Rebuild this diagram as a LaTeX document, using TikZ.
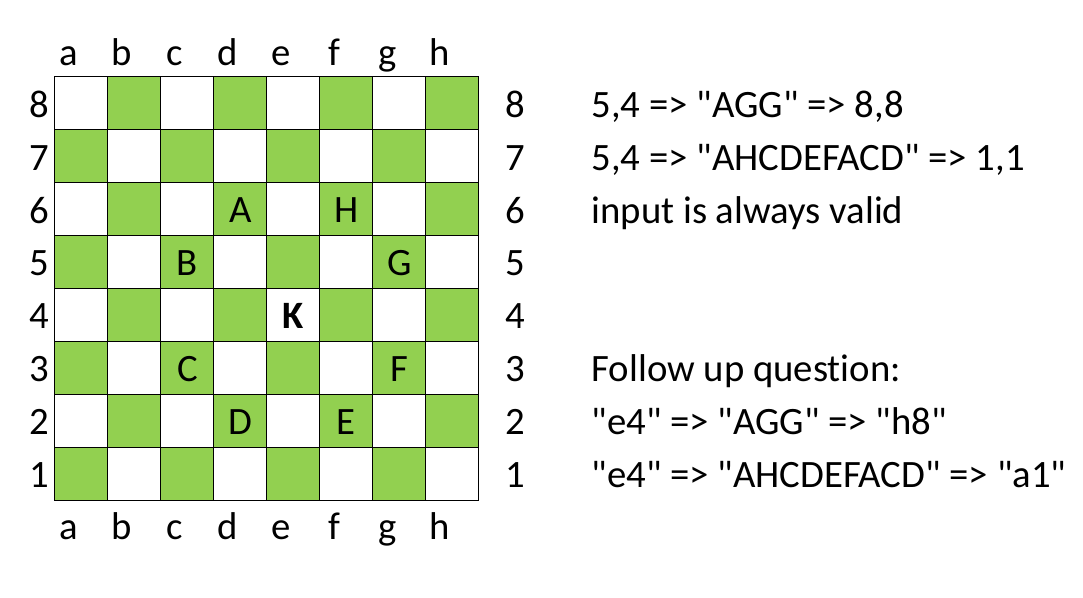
\documentclass[tikz,border=0pt]{standalone}
\usepackage{fontspec}
\setmainfont{Carlito}[Ligatures={TeXOff,NoCommon}]
\usetikzlibrary{positioning}
\definecolor{boardgreen}{HTML}{92D050}

\begin{document}
\begin{tikzpicture}[
  x=1cm, y=1cm,
  every node/.style={font=\fontsize{20.8}{24}\selectfont, inner sep=0pt},
  sq/.style={draw, line width=0.6pt, minimum size=1cm, anchor=south west},
  lbl/.style={anchor=base},
  piece/.style={anchor=base, yshift=-0.25cm},
  note/.style={anchor=base west},
]
  \useasboundingbox (-1.025,-1.825) rectangle (19.41,9.458);

  % Board squares
  \foreach \c [count=\i] in {a,b,c,d,e,f,g,h} {
    \foreach \r in {1,...,8} {
      \ifodd\numexpr\i+\r\relax \def\sqcol{white}\else\def\sqcol{boardgreen}\fi
      \node[sq, fill=\sqcol] (\c\r) at (\i-1,\r-1) {};
    }
  }

  % File letters, top and bottom
  \foreach \c [count=\i] in {a,b,c,d,e,f,g,h} {
    \node[lbl] (top-\c) at (\i-0.72,8.23) {\c};
    \node[lbl] (bot-\c) at (\i-0.72,-0.73) {\c};
  }

  % Rank numbers, left and right
  \foreach \r in {1,...,8} {
    \node[lbl] (left-\r)  at (-0.29,\r-0.75) {\r};
    \node[lbl] (right-\r) at (8.69,\r-0.75) {\r};
  }

  % Letters on the board
  \node[piece] (pA) at (d6.center) {A};
  \node[piece] (pH) at (f6.center) {H};
  \node[piece] (pB) at (c5.center) {B};
  \node[piece] (pG) at (g5.center) {G};
  \node[piece] (pK) at (e4.center) {\bfseries K};
  \node[piece] (pC) at (c3.center) {C};
  \node[piece] (pF) at (g3.center) {F};
  \node[piece] (pD) at (d2.center) {D};
  \node[piece] (pE) at (f2.center) {E};

  % Notes on the right
  \node[note] (ex1) at (10.13,7.25) {5,4 => "AGG" => 8,8};
  \node[note] (ex2) at (10.13,6.25) {5,4 => "AHCDEFACD" => 1,1};
  \node[note] (ex3) at (10.13,5.25) {input is always valid};
  \node[note] (fu0) at (10.13,2.25) {Follow up question:};
  \node[note] (fu1) at (10.13,1.25) {"e4" => "AGG" => "h8"};
  \node[note] (fu2) at (10.13,0.25) {"e4" => "AHCDEFACD" => "a1"};
\end{tikzpicture}
\end{document}
